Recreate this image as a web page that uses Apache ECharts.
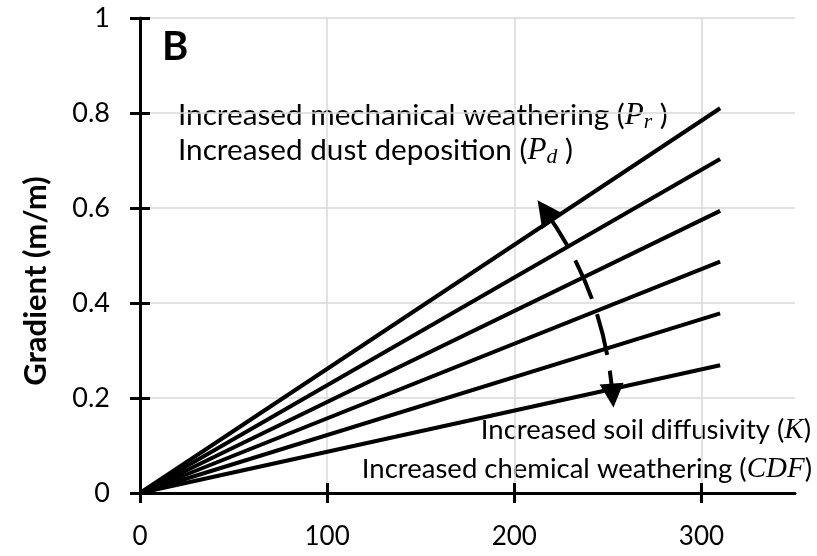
<!DOCTYPE html>
<html lang="en">
<head>
<meta charset="UTF-8">
<title>Gradient</title>
<script src="https://cdn.jsdelivr.net/npm/echarts@6/dist/echarts.min.js"></script>
<style>
    body { margin: 0; }
    #main { width: 817px; height: 556px; }
</style>
</head>
<body>
<div id="main"></div>
<script>
    // values
    var xTicks = [0, 100, 200, 300]
    var lineEndX = 310
    var lineEndY = [0.81, 0.703, 0.594, 0.487, 0.378, 0.269]
    var arrowFrom = [216.5, 0.594]
    var arrowTo = [252.5, 0.205]

    var font = 'Lato'
    var mathFont = 'Liberation Serif'
    var black = '#000'
    var gridColor = '#d9d9d9'

    var chart = echarts.init(document.getElementById('main'))

    var series = lineEndY.map(function (v) {
        return {
            type: 'line',
            data: [[0, 0], [lineEndX, v]],
            symbol: 'none',
            silent: true,
            lineStyle: { color: black, width: 4 }
        }
    })
    // dashed curved double arrow
    series.push({
        type: 'lines',
        coordinateSystem: 'cartesian2d',
        silent: true,
        symbol: ['triangle', 'triangle'],
        symbolSize: [26, 24],
        lineStyle: { color: black, width: 4, type: [42, 16], curveness: 0.14, opacity: 1 },
        data: [{ coords: [arrowFrom, arrowTo] }]
    })

    var tickStyle = { color: black, width: 3 }
    function mathRich(size) {
        return {
            t: { fontFamily: font, fontSize: size, lineHeight: 36, verticalAlign: 'middle', fill: black },
            p: { fontFamily: mathFont, fontStyle: 'italic', fontSize: size + 1.5, lineHeight: 36, verticalAlign: 'middle', fill: black },
            s: { fontFamily: mathFont, fontStyle: 'italic', fontSize: size - 8, lineHeight: size - 8, verticalAlign: 'bottom', fill: black }
        }
    }
    function note(text, size, pos) {
        return Object.assign({
            type: 'text',
            silent: true,
            style: { text: text, rich: mathRich(size), fill: black }
        }, pos)
    }

    var gridBox = { left: 140, right: 22, top: 18, bottom: 63 }

    var option = {
        backgroundColor: '#fff',
        animation: false,
        // second grid on the same box only carries the inward half of the ticks
        grid: [Object.assign({}, gridBox), Object.assign({}, gridBox)],
        xAxis: [{
            type: 'value', min: 0, max: 350, interval: 100,
            axisLine: { lineStyle: tickStyle },
            axisTick: { customValues: xTicks, length: 10, lineStyle: tickStyle },
            axisLabel: { customValues: xTicks, fontFamily: font, fontSize: 26, color: black, margin: 31 },
            splitLine: { show: true, lineStyle: { color: gridColor, width: 1.5 } }
        }, {
            gridIndex: 1, type: 'value', min: 0, max: 350, interval: 100,
            axisLine: { show: false },
            axisTick: { customValues: xTicks, inside: true, length: 10, lineStyle: tickStyle },
            axisLabel: { show: false },
            splitLine: { show: false }
        }],
        yAxis: [{
            type: 'value', min: 0, max: 1, interval: 0.2,
            axisLine: { lineStyle: tickStyle },
            axisTick: { show: true, length: 10, lineStyle: tickStyle },
            axisLabel: { fontFamily: font, fontSize: 27, color: black, margin: 30 },
            splitLine: { show: true, lineStyle: { color: gridColor, width: 1.5 } }
        }, {
            gridIndex: 1, type: 'value', min: 0, max: 1, interval: 0.2,
            axisLine: { show: false },
            axisTick: { show: true, inside: true, length: 10, lineStyle: tickStyle },
            axisLabel: { show: false },
            splitLine: { show: false }
        }],
        graphic: [
            { type: 'text', x: 36, y: 281, rotation: Math.PI / 2, silent: true,
              style: { text: 'Gradient (m/m)', fontFamily: font, fontWeight: 'bold', fontSize: 31,
                       fill: black, align: 'center', verticalAlign: 'middle' } },
            { type: 'text', left: 162, top: 27, silent: true,
              style: { text: 'B', fontFamily: font, fontWeight: 'bold', fontSize: 40, fill: black } },
            note('{t|Increased mechanical weathering (}{p|P}{s|r}{t| )}', 29.7, { left: 178, top: 100 }),
            note('{t|Increased dust deposition (}{p|P}{s|d}{t| )}', 29.7, { left: 178, top: 135 }),
            note('{t|Increased soil diffusivity (}{p|K}{t|)}', 27.5, { right: 6, top: 416 }),
            note('{t|Increased chemical weathering (}{p|CDF}{t|)}', 27.5, { right: 5, top: 455 })
        ],
        series: series
    }
    chart.setOption(option)
</script>
</body>
</html>
